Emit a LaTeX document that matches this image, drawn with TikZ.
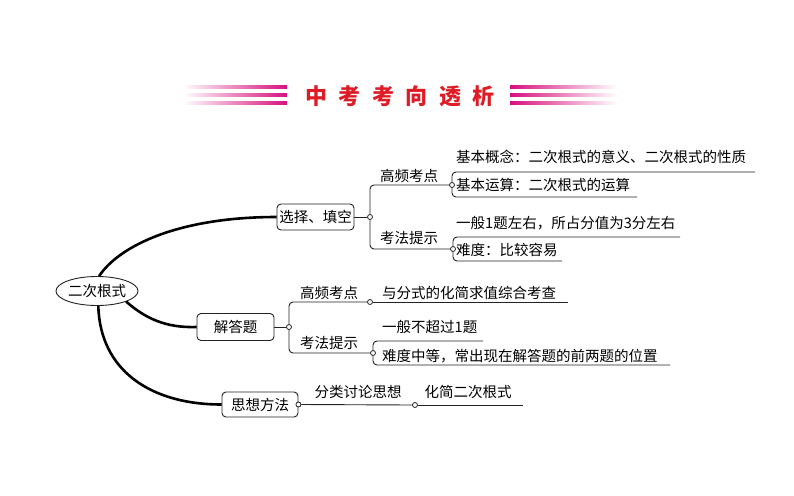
\documentclass[tikz,border=0pt]{standalone}
\usepackage{fontspec}
\newfontfamily\cjk{Noto Sans CJK SC}
\usetikzlibrary{shapes.geometric}
\definecolor{stripe}{RGB}{214,16,128}
\definecolor{titlered}{RGB}{222,28,38}
\definecolor{ink}{RGB}{35,35,35}
\tikzset{
 topic/.style={draw=ink, line width=0.9pt, rounded corners=4pt, inner sep=0pt, minimum height=26pt, minimum width=77pt},
 rootnode/.style={ellipse, draw=ink, line width=0.9pt, minimum width=79pt, minimum height=29pt, inner sep=0pt},
 branch/.style={draw=black, line width=2.6pt},
 twig/.style={draw=ink, line width=0.9pt, rounded corners=4pt},
 joint/.style={circle, draw=ink, fill=white, line width=0.8pt, minimum size=5pt, inner sep=0pt},
 lbl/.style={inner sep=0pt},
 leaf/.style={inner sep=0pt, anchor=west},
 titlestyle/.style={inner sep=0pt, text=titlered, font=\cjk\bfseries\fontsize{22pt}{24pt}\selectfont},
}
\begin{document}
\begin{tikzpicture}[x=1pt,y=-1pt,font=\cjk\fontsize{14.5pt}{17pt}\selectfont]
\useasboundingbox[fill=white] (0,0) rectangle (794,495);
% title stripes
\foreach \yy in {87,95,103}{
  \shade[left color=white, right color=stripe] (183,\yy-1.6) rectangle (287,\yy+1.6);
  \shade[left color=stripe, right color=white] (510,\yy-1.6) rectangle (617,\yy+1.6);
}
\node[titlestyle] (title) at (400,96) {中\kern11.6pt 考\kern11.6pt 考\kern11.6pt 向\kern11.6pt 透\kern11.6pt 析};

% main nodes
\node[rootnode] (root) at (97,291) {二次根式};
\node[topic] (b1) at (315.5,217) {选择、填空};
\node[topic, minimum height=27pt] (b2) at (235.5,327) {解答题};
\node[topic, minimum height=25pt, minimum width=76pt] (b3) at (260,404.5) {思想方法};

\draw[branch] (root.82) .. controls (120,245) and (180,217) .. (b1.west);
\draw[branch] (root.-20) .. controls (145,318) and (165,328) .. (b2.west);
\draw[branch] (root.-85) .. controls (100,370) and (150,404.5) .. (b3.west);

% branch 1
\node[joint] (c1) at (370,217) {};
\draw[twig] (b1.east) -- (c1.west);
\node[joint] (c11) at (452,185) {};
\node[joint] (c12) at (453,249) {};
\draw[twig] (c1.north) |- (c11.west);
\draw[twig] (c1.south) |- (c12.west);
\node[lbl] (l11) at (409,176) {高频考点};
\node[lbl] (l12) at (409,238) {考法提示};
\node[leaf] (t111) at (456,157) {基本概念：二次根式的意义、二次根式的性质};
\coordinate (u111) at (755,172);
\draw[twig] (c11.north) |- (u111);
\node[leaf] (t112) at (456,185) {基本运算：二次根式的运算};
\coordinate (u112) at (637,197);
\draw[twig] (c11.south) |- (u112);
\node[leaf] (t121) at (456,223) {一般1题左右，所占分值为3分左右};
\coordinate (u121) at (680,237);
\draw[twig] (c12.north) |- (u121);
\node[leaf] (t122) at (456,250) {难度：比较容易};
\coordinate (u122) at (562,261);
\draw[twig] (c12.south) |- (u122);

% branch 2
\node[joint] (c2) at (289,327) {};
\draw[twig] (b2.east) -- (c2.west);
\node[joint] (c21) at (370,302) {};
\node[joint] (c22) at (373,353) {};
\draw[twig] (c2.north) |- (c21.west);
\draw[twig] (c2.south) |- (c22.west);
\node[lbl] (l21) at (329,293) {高频考点};
\node[lbl] (l22) at (329,343) {考法提示};
\node[leaf] (t211) at (382,293) {与分式的化简求值综合考查};
\coordinate (u211) at (568,302);
\draw[twig] (c21.east) -- (u211);
\node[leaf] (t221) at (382,327) {一般不超过1题};
\coordinate (u221) at (483,341);
\draw[twig] (c22.north) |- (u221);
\node[leaf] (t222) at (382,356) {难度中等，常出现在解答题的前两题的位置};
\coordinate (u222) at (670,365);
\draw[twig] (c22.south) |- (u222);

% branch 3
\node[joint] (c3) at (b3.east) {};
\node[joint] (c31) at (415,405) {};
\coordinate (u31) at (523,405);
\draw[twig] (c3.east) -- (c31.west);
\draw[twig] (c31.east) -- (u31);
\node[lbl] (l31) at (358,392) {分类讨论思想};
\node[lbl] (t31) at (468,392) {化简二次根式};
\end{tikzpicture}
\end{document}
